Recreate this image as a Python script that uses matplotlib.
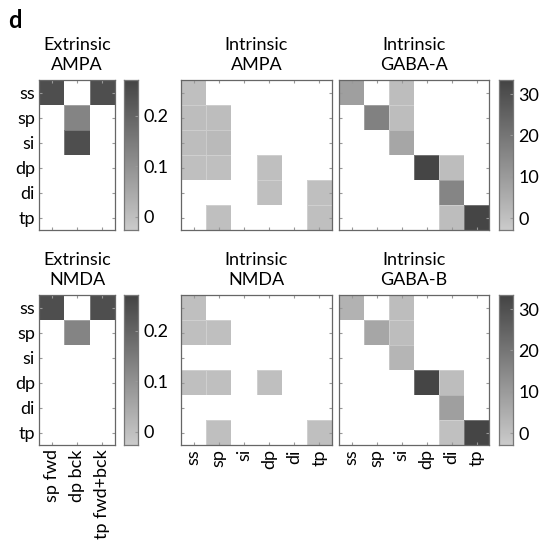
import numpy as np
import matplotlib
matplotlib.use("Agg")
import matplotlib.pyplot as plt
from matplotlib.colors import LinearSegmentedColormap

plt.rcParams['font.family'] = ['Lato', 'DejaVu Sans']

pops = ['ss', 'sp', 'si', 'dp', 'di', 'tp']
ext_labels = ['sp fwd', 'dp bck', 'tp fwd+bck']
n = np.nan

# extrinsic (rows = pops, cols = afferent types)
ext_ampa = [[0.25, n, 0.25],
            [n, 0.13, n],
            [n, 0.25, n],
            [n, n, n],
            [n, n, n],
            [n, n, n]]
ext_nmda = [[0.25, n, 0.25],
            [n, 0.13, n],
            [n, n, n],
            [n, n, n],
            [n, n, n],
            [n, n, n]]

# intrinsic, rows = target, cols = source
int_ampa = [[0.0, n, n, n, n, n],
            [0.005, 0.005, n, n, n, n],
            [0.005, 0.012, n, n, n, n],
            [0.0, 0.0, n, 0.0, n, n],
            [n, n, n, 0.0, n, 0.0],
            [n, 0.0, n, n, n, 0.0]]
int_nmda = [[0.0, n, n, n, n, n],
            [0.0, 0.0, n, n, n, n],
            [n, n, n, n, n, n],
            [0.0, 0.0, n, 0.0, n, n],
            [n, n, n, n, n, n],
            [n, 0.0, n, n, n, 0.0]]
gaba_a = [[9, n, 1, n, n, n],
          [n, 17, 1, n, n, n],
          [n, n, 7, n, n, n],
          [n, n, n, 33, 1, n],
          [n, n, n, n, 16, n],
          [n, n, n, n, 1, 33]]
gaba_b = [[4, n, 1, n, n, n],
          [n, 7, 1, n, n, n],
          [n, n, 3, n, n, n],
          [n, n, n, 33, 1, n],
          [n, n, n, n, 9, n],
          [n, n, n, n, 0, 33]]

cmap = LinearSegmentedColormap.from_list('g', ['#cbcbcb', '#444444'])
cmap.set_bad('white')

fig = plt.figure(figsize=(5.41, 5.56), dpi=100)
W, H = 541., 556.

def ax_at(x0, x1, y0, y1):
    return fig.add_axes([x0 / W, 1 - y1 / H, (x1 - x0) / W, (y1 - y0) / H])

def draw(ax, data, vmin, vmax, title, xlabels=None, ylabels=None):
    d = np.ma.masked_invalid(np.array(data, dtype=float))
    ax.pcolormesh(d, cmap=cmap, vmin=vmin, vmax=vmax,
                  edgecolors=(1, 1, 1, 0.25), linewidth=0.6)
    ax.set_xlim(0, d.shape[1])
    ax.set_ylim(d.shape[0], 0)
    ax.set_xticks(np.arange(d.shape[1]) + 0.5)
    ax.set_yticks(np.arange(d.shape[0]) + 0.5)
    ax.tick_params(direction='in', length=2, color='#999999',
                   top=True, right=True, labelsize=13, pad=3)
    if xlabels:
        ax.set_xticklabels(xlabels, rotation=90)
    else:
        ax.set_xticklabels([])
    if ylabels:
        ax.set_yticklabels(ylabels)
    else:
        ax.set_yticklabels([])
    for s in ax.spines.values():
        s.set_color('#666666')
        s.set_linewidth(0.9)
    ax.set_title(title, fontsize=13, linespacing=1.35, pad=7)

def cbar(x0, x1, y0, y1, vmin, vmax, ticks, labels):
    cax = ax_at(x0, x1, y0, y1)
    grad = np.linspace(vmin, vmax, 256).reshape(-1, 1)
    cax.imshow(grad, aspect='auto', cmap=cmap, vmin=vmin, vmax=vmax,
               origin='lower', extent=[0, 1, vmin, vmax])
    cax.set_xticks([])
    cax.yaxis.tick_right()
    cax.set_yticks(ticks)
    cax.set_yticklabels(labels)
    cax.tick_params(direction='in', length=2, color='#999999',
                    labelsize=13, pad=4)
    for s in cax.spines.values():
        s.set_color('#777777')
        s.set_linewidth(0.9)

rows = [(80, 230), (295, 445)]
for i, (y0, y1) in enumerate(rows):
    bottom = i == 1
    a1 = ax_at(39, 115, y0, y1)
    draw(a1, [ext_ampa, ext_nmda][i], -0.026, 0.271,
         'Extrinsic\n' + ['AMPA', 'NMDA'][i],
         ext_labels if bottom else None, pops)
    cbar(124, 138, y0, y1, -0.026, 0.271, [0, 0.1, 0.2], ['0', '0.1', '0.2'])
    a2 = ax_at(181, 332, y0, y1)
    draw(a2, [int_ampa, int_nmda][i], -0.026, 0.271,
         'Intrinsic\n' + ['AMPA', 'NMDA'][i],
         pops if bottom else None, None)
    a3 = ax_at(339, 489, y0, y1)
    draw(a3, [gaba_a, gaba_b][i], -2.9, 33.4,
         'Intrinsic\n' + ['GABA-A', 'GABA-B'][i],
         pops if bottom else None, None)
    cbar(499, 513, y0, y1, -2.9, 33.4, [0, 10, 20, 30], ['0', '10', '20', '30'])

fig.text(8 / W, 1 - 28 / H, 'd', fontsize=17, fontweight='bold')

fig.savefig('out.png', dpi=100)
